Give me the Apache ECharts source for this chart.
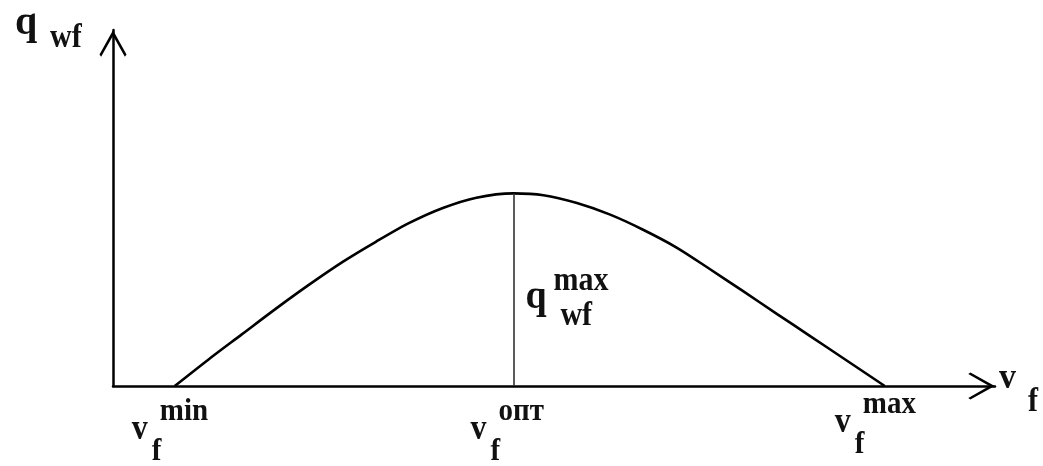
<!DOCTYPE html>
<html>
<head>
<meta charset="utf-8">
<script src="https://cdn.jsdelivr.net/npm/echarts@6/dist/echarts.min.js"></script>
<style>
html,body{margin:0;padding:0;background:#fff;}
#chart{width:1043px;height:466px;}
</style>
</head>
<body>
<div id="chart"></div>
<script>
// Curve q_wf(v_f) (axis units 0..100)
const curveV = [7.0, 10.8, 14.6, 18.4, 22.2, 26.0, 29.8, 33.6, 37.4, 41.2, 45.4, 48.8, 52.6, 56.3, 60.1, 63.9, 67.7, 71.4, 75.3, 79.0, 82.8, 87.5];
const curveQ = [0, 7.4, 14.5, 21.6, 28.4, 34.8, 40.5, 45.8, 50.0, 52.9, 54.1, 53.6, 51.4, 48.2, 43.9, 38.9, 32.8, 26.7, 20.2, 14.1, 7.8, 0];
// Marked points on the v_f axis
const tickV = [7.0, 45.4, 87.5];
const tickMain = ['v', 'v', 'v'];
const tickSup = ['min', 'опт', 'max'];
const tickSub = ['f', 'f', 'f'];
// Peak
const peakV = 45.4;
const peakQ = 54.1;
const peakMain = 'q';
const peakSup = 'max';
const peakSub = 'wf';
// Axis names
const xName = ['v', 'f'];
const yName = ['q', 'wf'];

const FONT = '"Liberation Serif", "DejaVu Serif", serif';
const chart = echarts.init(document.getElementById('chart'));
const chevron = 'path://M50,0 L100,90 L94,98 L50,20 L6,98 L0,90 Z';
const axisLine = {
  show: true,
  onZero: true,
  lineStyle: { color: '#000', width: 2.5 },
  symbol: ['none', chevron],
  symbolSize: [27, 27],
  symbolOffset: [0, -13.5]
};

chart.setOption({
  animation: false,
  backgroundColor: '#fff',
  grid: { left: 113, right: 48, top: 30, bottom: 80 },
  xAxis: {
    type: 'value', min: 0, max: 100,
    axisLine: axisLine,
    axisTick: { show: false }, axisLabel: { show: false }, splitLine: { show: false }
  },
  yAxis: {
    type: 'value', min: 0, max: 100,
    axisLine: axisLine,
    axisTick: { show: false }, axisLabel: { show: false }, splitLine: { show: false }
  },
  series: [{
    type: 'line',
    data: curveV.map((v, i) => [v, curveQ[i]]),
    smooth: 0.3,
    showSymbol: false,
    lineStyle: { color: '#000', width: 2.6 },
    markLine: {
      silent: true,
      symbol: 'none',
      label: { show: false },
      lineStyle: { color: '#333', width: 1.6, type: 'solid' },
      data: [[{ coord: [peakV, 0] }, { coord: [peakV, peakQ] }]]
    }
  }]
});

function txt(text, left, baseline, fs, sy) {
  sy = sy || 1;
  return {
    type: 'text',
    x: left,
    y: baseline,
    scaleY: sy,
    silent: true,
    style: {
      text: text,
      x: 0,
      y: -0.3375 * fs,
      font: 'bold ' + fs + 'px ' + FONT,
      fill: '#111',
      textAlign: 'left',
      textVerticalAlign: 'middle',
      verticalAlign: 'middle'
    }
  };
}

// layout shift of each tick label group (the last one sits a little higher/left)
const tickShift = [[0, 0], [0, 0], [-7, -7]];
const g = [];
tickV.forEach((v, i) => {
  const p = chart.convertToPixel({ gridIndex: 0 }, [v, 0]);
  const sx = p[0] + tickShift[i][0], sb = p[1] + tickShift[i][1];
  g.push(txt(tickMain[i], sx - 43, sb + 56, 32, 1.15));
  g.push(txt(tickSup[i], sx - 15, sb + 37, 29, 1.1));
  g.push(txt(tickSub[i], sx - 23, sb + 77, 29, 1.1));
});
// peak label, anchored at the middle of the vertical line
const pm = chart.convertToPixel({ gridIndex: 0 }, [peakV, peakQ / 2]);
g.push(txt(peakMain, pm[0] + 12, pm[1] + 21, 38, 1.05));
g.push(txt(peakSup, pm[0] + 40, pm[1] + 3, 30, 1.1));
g.push(txt(peakSub, pm[0] + 47, pm[1] + 38, 30, 1.1));
// x axis name
const xe = chart.convertToPixel({ gridIndex: 0 }, [100, 0]);
g.push(txt(xName[0], xe[0] + 4, xe[1] + 5, 34, 1.05));
g.push(txt(xName[1], xe[0] + 33, xe[1] + 28, 30, 1.1));
// y axis name
const ye = chart.convertToPixel({ gridIndex: 0 }, [0, 100]);
g.push(txt(yName[0], ye[0] - 98, ye[1] + 7, 40, 1.05));
g.push(txt(yName[1], ye[0] - 63, ye[1] + 20, 30, 1.1));

chart.setOption({ graphic: g });
</script>
</body>
</html>
